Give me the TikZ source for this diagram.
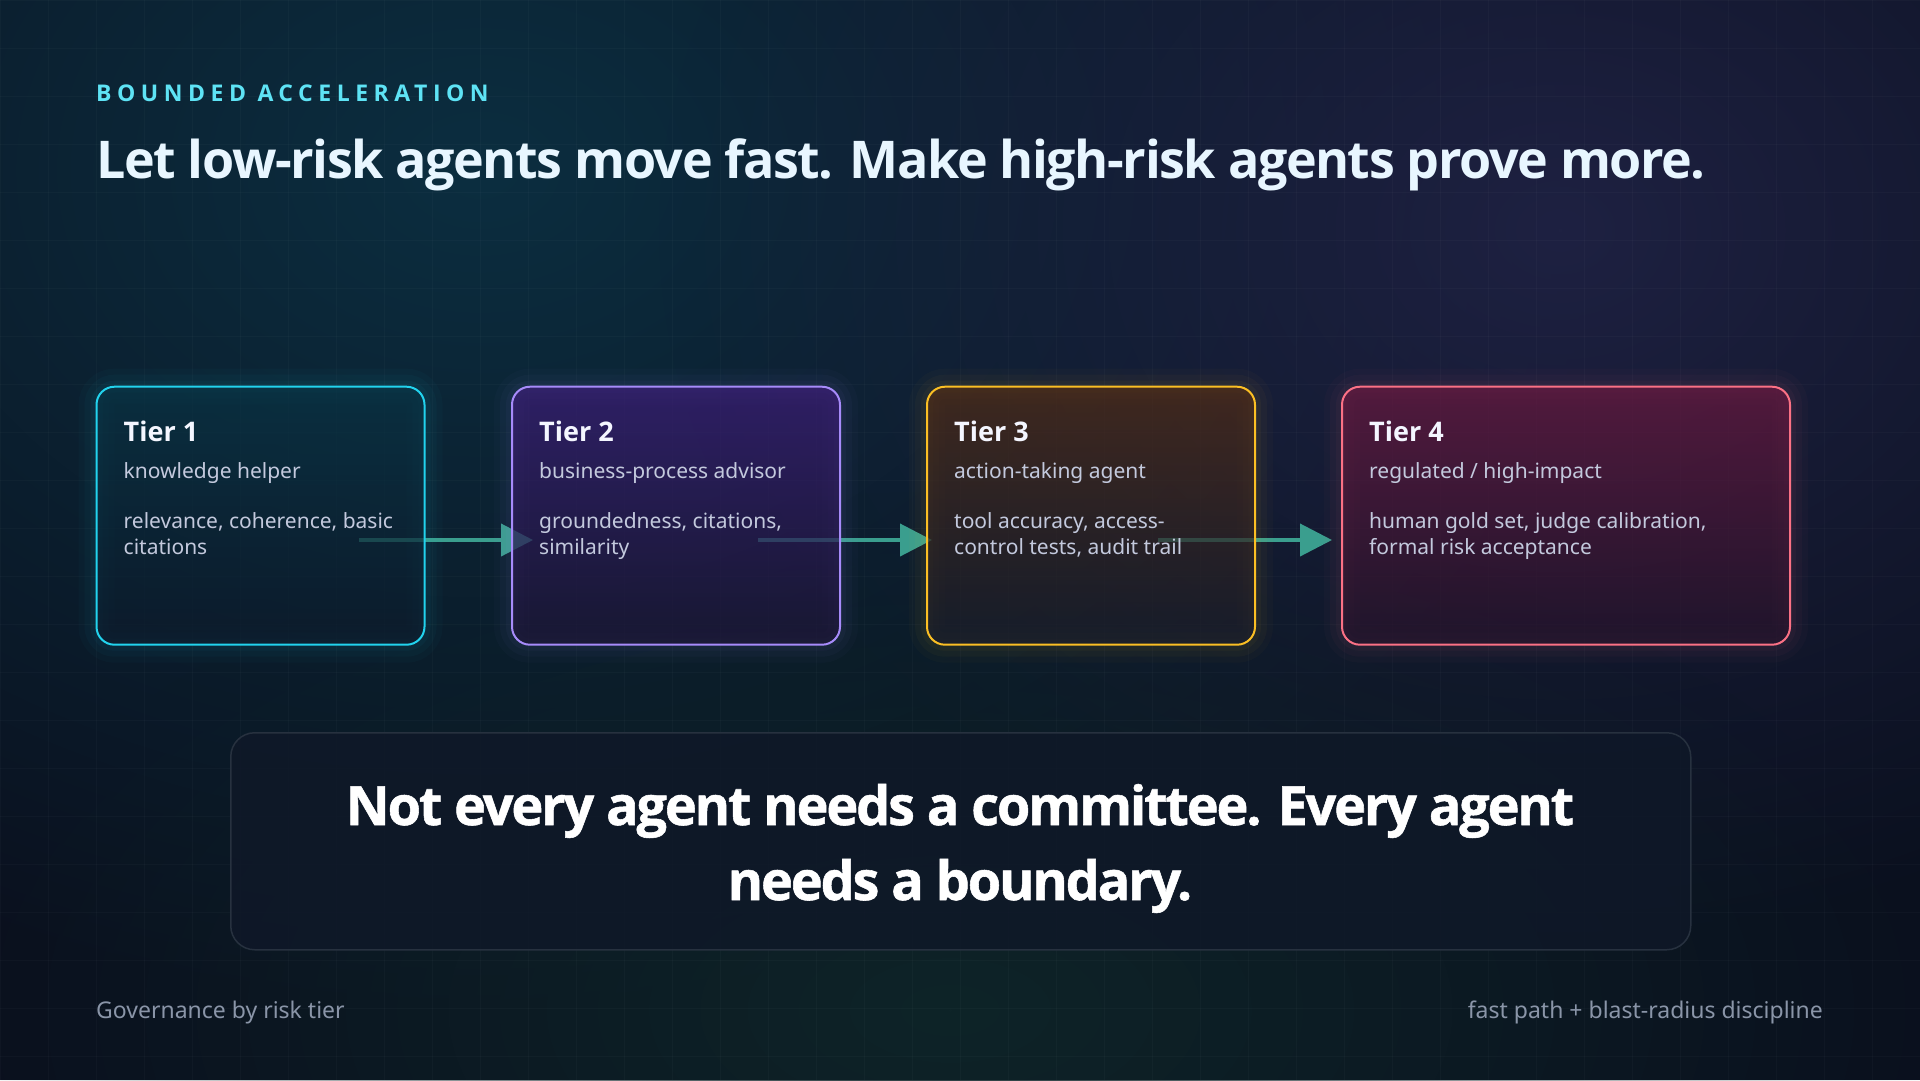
\documentclass[tikz,border=0pt]{standalone}
\usepackage{fontspec}
\IfFontExistsTF{Open Sans Bold}
	{\setmainfont{Noto Sans}[BoldFont={Open Sans Bold}]}
	{\setmainfont{Noto Sans}[AutoFakeBold=2.5]}
\usetikzlibrary{positioning,fadings,arrows.meta}

\definecolor{bgbase}{HTML}{0A101E}
\definecolor{glowteal}{HTML}{0C2E40}
\definecolor{glowplum}{HTML}{1E2142}
\definecolor{glowgreen}{HTML}{0E2428}
\definecolor{kickerc}{HTML}{5EE3F5}
\definecolor{headc}{HTML}{E8F6FF}
\definecolor{titlec}{HTML}{F4F6FF}
\definecolor{rolec}{HTML}{C3C9DD}
\definecolor{footc}{HTML}{8A95A8}
\definecolor{flowc}{HTML}{3A9E8E}
\definecolor{tierA}{HTML}{22D3EE}
\definecolor{tierB}{HTML}{A78BFA}
\definecolor{tierC}{HTML}{FBBF24}
\definecolor{tierD}{HTML}{FB7185}
\definecolor{tierAtop}{HTML}{093344}
\definecolor{tierAbot}{HTML}{0D1A2B}
\definecolor{tierBtop}{HTML}{3D1D78}
\definecolor{tierBbot}{HTML}{1D1535}
\definecolor{tierCtop}{HTML}{522C15}
\definecolor{tierCbot}{HTML}{191D2B}
\definecolor{tierDtop}{HTML}{6A183F}
\definecolor{tierDbot}{HTML}{24142B}
\definecolor{calloutfill}{HTML}{0F1828}
\definecolor{calloutline}{HTML}{27313F}

\tikzfading[name=glow fade, inner color=transparent!0, outer color=transparent!100]

\begin{document}
\begin{tikzpicture}
		[x=1pt,y=-1pt,
		tier box/.style={draw=#1,line width=2pt,rounded corners=18pt,anchor=north west,
			minimum height=258pt,fill opacity=0.7,top color=#1top,bottom color=#1bot,
			preaction={draw=#1,line width=36pt,draw opacity=0.025},
			preaction={draw=#1,line width=24pt,draw opacity=0.03},
			preaction={draw=#1,line width=12pt,draw opacity=0.04}},
		tier title/.style={anchor=base west,inner sep=0pt,text=titlec,font=\fontsize{27}{32}\selectfont\bfseries},
		tier role/.style={anchor=base west,inner sep=0pt,text=rolec,font=\fontsize{21}{26}\selectfont},
		tier checks/.style={anchor=base west,inner sep=0pt,text=rolec,align=left,font=\fontsize{21}{26}\selectfont},
		flow/.style={draw=flowc,line width=4pt,-{Triangle[length=32pt,width=32pt]}},
		motto/.style={anchor=base,inner sep=0pt,text=white,font=\fontsize{54}{60}\selectfont\bfseries\addfontfeature{LetterSpace=-4,FakeBold=1}},
		foot/.style={anchor=base,inner sep=0pt,text=footc,font=\fontsize{23}{28}\selectfont}]
		
		% background
		\useasboundingbox (0,0) rectangle (1920,1080);
		\clip (0,0) rectangle (1920,1080);
		\fill[bgbase] (0,0) rectangle (1920,1080);
		\fill[glowteal,path fading=glow fade] (480,170) ellipse (1150 and 850);
		\fill[glowplum,path fading=glow fade] (1560,230) ellipse (900 and 720);
		\fill[glowgreen,path fading=glow fade] (950,1010) ellipse (1000 and 520);
		\foreach \gx in {0,48,...,1920} \draw[white,opacity=0.025,line width=1pt] (\gx,0) -- (\gx,1080);
		\foreach \gy in {0,48,...,1080} \draw[white,opacity=0.025,line width=1pt] (0,\gy) -- (1920,\gy);
		
		% heading
		\node[anchor=base west,inner sep=0pt,text=kickerc,font=\fontsize{23}{26}\selectfont\bfseries\addfontfeature{LetterSpace=24}] (kicker) at (96,101) {BOUNDED ACCELERATION};
		\node[anchor=base west,inner sep=0pt,text=headc,font=\fontsize{52}{60}\selectfont\bfseries\addfontfeature{LetterSpace=-2.8}] (head) at (96,178) {Let low-risk agents move fast. Make high-risk agents prove more.};
		
		% arrows (under the cards)
		\coordinate (a1) at (359,540);
		\coordinate (a1e) at (533,540);
		\coordinate (a2) at (758,540);
		\coordinate (a2e) at (932,540);
		\coordinate (a3) at (1158,540);
		\coordinate (a3e) at (1332,540);
		\draw[flow] (a1) -- (a1e);
		\draw[flow] (a2) -- (a2e);
		\draw[flow] (a3) -- (a3e);
		
		% tiers
		\node[tier box=tierA,minimum width=328pt] (t1) at (95.5,385.7) {};
		\node[tier box=tierB,minimum width=328pt] (t2) at (511,385.7) {};
		\node[tier box=tierC,minimum width=328pt] (t3) at (926,385.7) {};
		\node[tier box=tierD,minimum width=448pt] (t4) at (1341,385.7) {};
		
		\node[tier title] (t1h) at ([shift={(28,56)}]t1.north west) {Tier 1};
		\node[tier role] (t1r) at ([yshift=-37pt]t1h.base west) {knowledge helper};
		\node[tier checks] (t1c) at ([yshift=-76pt]t1r.base west) {relevance, coherence, basic\\citations};
		
		\node[tier title] (t2h) at ([shift={(28,56)}]t2.north west) {Tier 2};
		\node[tier role] (t2r) at ([yshift=-37pt]t2h.base west) {business-process advisor};
		\node[tier checks] (t2c) at ([yshift=-76pt]t2r.base west) {groundedness, citations,\\similarity};
		
		\node[tier title] (t3h) at ([shift={(28,56)}]t3.north west) {Tier 3};
		\node[tier role] (t3r) at ([yshift=-37pt]t3h.base west) {action-taking agent};
		\node[tier checks] (t3c) at ([yshift=-76pt]t3r.base west) {tool accuracy, access-\\control tests, audit trail};
		
		\node[tier title] (t4h) at ([shift={(28,56)}]t4.north west) {Tier 4};
		\node[tier role] (t4r) at ([yshift=-37pt]t4h.base west) {regulated / high-impact};
		\node[tier checks] (t4c) at ([yshift=-76pt]t4r.base west) {human gold set, judge calibration,\\formal risk acceptance};
		
		% callout
		\node[draw=calloutline,fill=calloutfill,fill opacity=0.85,line width=1.5pt,rounded corners=24pt,anchor=north west,
			minimum width=1460pt,minimum height=217pt] (call) at (230,732) {};
		\node[motto] (callA) at (960,825) {Not every agent needs a committee. Every agent};
		\node[motto] (callB) at (960,900) {needs a boundary.};
		
		% footer
		\node[foot,anchor=base west] (footL) at (96,1018) {Governance by risk tier};
		\node[foot,anchor=base east] (footR) at (1823,1018) {fast path + blast-radius discipline};
		\end{tikzpicture}
\end{document}
